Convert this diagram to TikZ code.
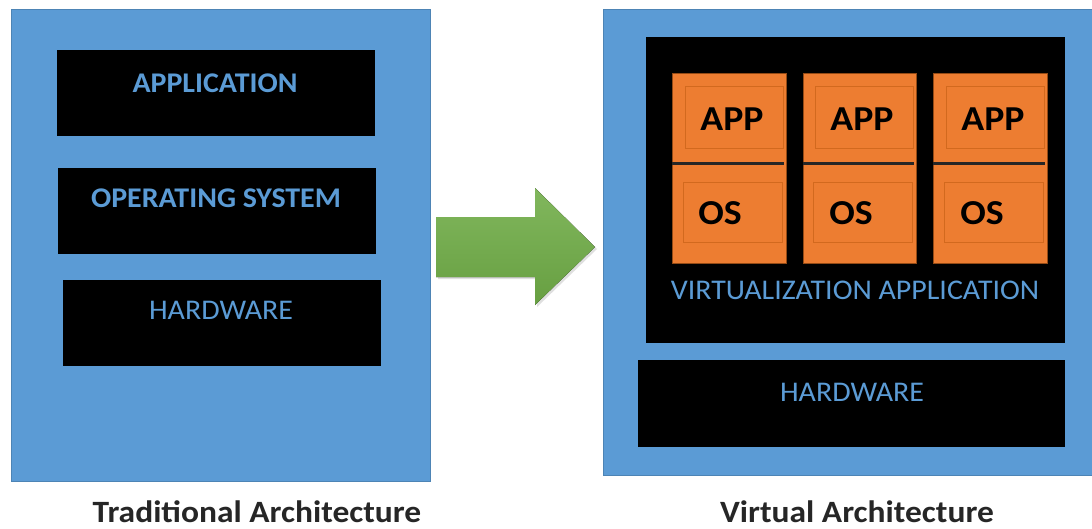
\documentclass[tikz,border=0pt]{standalone}
\usepackage{fontspec}
\setmainfont{Carlito}
\usetikzlibrary{shadows}

\definecolor{boxblue}{HTML}{5B9BD5}
\definecolor{vmorange}{HTML}{ED7D31}
\definecolor{vmedge}{HTML}{D2691E}
\definecolor{arrowgreen}{HTML}{70AD47}

\tikzset{
  panel/.style={fill=boxblue, draw=boxblue!85!black, line width=.6pt, inner sep=0pt},
  layer/.style={fill=black, inner sep=0pt},
  vm/.style={fill=vmorange, draw=vmedge!70!black, line width=.5pt, inner sep=0pt, minimum height=190},
  vmpart/.style={fill=vmorange, draw=vmedge, line width=.8pt, inner sep=0pt},
  layertxt/.style={text=boxblue, xscale=1.05, font=\fontsize{28.5}{30}\selectfont},
  vmtxt/.style={text=black, xscale=1.08, font=\bfseries\fontsize{35}{37}\selectfont},
  caption/.style={text=black!85, xscale=1.08, anchor=base, font=\bfseries\fontsize{31}{33}\selectfont}
}

\begin{document}
\begin{tikzpicture}[x=1pt,y=-1pt]
  \useasboundingbox (0,0) rectangle (1092,528);
  \fill[white] (0,0) rectangle (1092,528);

  % traditional side
  \node[panel, minimum width=419, minimum height=472] (trad) at (220.5,245) {};
  \node[layer, minimum width=318, minimum height=86] (app) at (216,93) {};
  \node[layer, minimum width=318, minimum height=86] (os) at (217,211) {};
  \node[layer, minimum width=318, minimum height=86] (hw) at (222,323) {};
  \node[layertxt, font=\bfseries\fontsize{28.5}{30}\selectfont] (apptxt) at (215,83) {APPLICATION};
  \node[layertxt, font=\bfseries\fontsize{28.5}{30}\selectfont] (ostxt) at (216,198) {OPERATING SYSTEM};
  \node[layertxt] (hwtxt) at (221,310) {HARDWARE};
  \node[caption] (tradcap) at (257,522) {Traditional Architecture};

  % arrow
  \fill[top color=arrowgreen!88!white, bottom color=arrowgreen!92!black,
        drop shadow={opacity=.25, shadow xshift=2pt, shadow yshift=-2pt}]
    (436,217) -- (535,217) -- (535,188) -- (595,247) -- (535,305) -- (535,277) -- (436,277) -- cycle;

  % virtual side
  \node[panel, minimum width=497, minimum height=466] (virt) at (851.5,242) {};
  \node[layer, minimum width=419, minimum height=306] (vapp) at (855.5,190) {};
  \node[layer, minimum width=427, minimum height=87] (hw2) at (851.5,403.5) {};

  \node[vm, minimum width=114] (vma) at (729,168) {};
  \node[vm, minimum width=113] (vmb) at (859.5,168) {};
  \node[vm, minimum width=114] (vmc) at (990,168) {};

  \node[vmpart, minimum width=98, minimum height=62] (appa) at (734,117) {};
  \node[vmpart, minimum width=98, minimum height=62] (appb) at (864.5,117) {};
  \node[vmpart, minimum width=98, minimum height=62] (appc) at (995,117) {};
  \node[vmpart, minimum width=99, minimum height=60] (osa) at (732.5,212) {};
  \node[vmpart, minimum width=99, minimum height=60] (osb) at (863,212) {};
  \node[vmpart, minimum width=99, minimum height=60] (osc) at (993.5,212) {};

  \draw[line width=3pt, black!85] (vma.west |- 0,163) -- (784,163);
  \draw[line width=3pt, black!85] (vmb.west |- 0,163) -- (914,163);
  \draw[line width=3pt, black!85] (vmc.west |- 0,163) -- (1045,163);

  \node[vmtxt] (appatxt) at (732,119) {APP};
  \node[vmtxt] (appbtxt) at (862,119) {APP};
  \node[vmtxt] (appctxt) at (993,119) {APP};
  \node[vmtxt] (osatxt) at (720,213) {OS};
  \node[vmtxt] (osbtxt) at (851,213) {OS};
  \node[vmtxt] (osctxt) at (982,213) {OS};

  \node[layertxt] (vapptxt) at (855,290) {VIRTUALIZATION APPLICATION};
  \node[layertxt] (hw2txt) at (852,392) {HARDWARE};
  \node[caption] (virtcap) at (857,522) {Virtual Architecture};
\end{tikzpicture}
\end{document}
